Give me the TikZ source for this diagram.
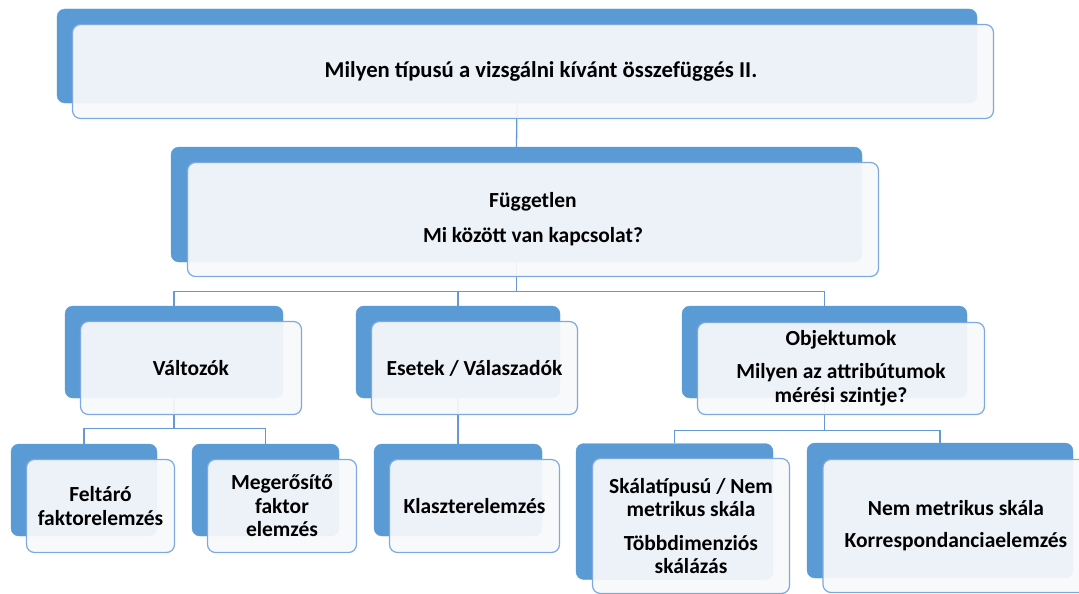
\documentclass[tikz,border=0pt]{standalone}
\usepackage{fontspec}
\setmainfont{Carlito}
\usepackage{tikz}

\definecolor{smBlue}{RGB}{91,155,213}
\definecolor{smEdge}{RGB}{125,170,222}
\definecolor{smFront}{RGB}{248,249,251}
\definecolor{smLine}{RGB}{104,152,210}
\newcommand{\boxfont}{\fontsize{21.5}{23.5}\selectfont\bfseries}

\begin{document}
\begin{tikzpicture}[x=1pt, y=-1pt]
          \tikzset{
            BackBox/.style = { rectangle, rounded corners=8pt,
              fill = smBlue, draw = smBlue, inner sep=0pt },
            FrontBox/.style = { rectangle, rounded corners=8pt, draw = smEdge,
              line width=1.2pt, fill = smFront, fill opacity=0.93,
              text opacity=1, text = black, align=center,
              font = \boxfont, inner sep=0pt },
            Link/.style = { draw = smLine, line width=1.3pt } }

          \useasboundingbox (0,0) rectangle (1079,594);
          \clip (0,0) rectangle (1079,594);

          % back boxes
          \node[BackBox, minimum width=920pt, minimum height=94pt] (b-top) at (517,56) {};
          \node[BackBox, minimum width=691pt, minimum height=115pt] (b-fuggetlen) at (516.5,204.5) {};
          \node[BackBox, minimum width=218pt, minimum height=92pt] (b-valtozok) at (174,352) {};
          \node[BackBox, minimum width=204pt, minimum height=92pt] (b-esetek) at (458,352) {};
          \node[BackBox, minimum width=285pt, minimum height=92pt] (b-objektumok) at (824.5,352) {};
          \node[BackBox, minimum width=146pt, minimum height=92pt] (b-feltaro) at (84,490) {};
          \node[BackBox, minimum width=147pt, minimum height=92pt] (b-megerosito) at (265.5,490) {};
          \node[BackBox, minimum width=168pt, minimum height=92pt] (b-klaszter) at (458,490) {};
          \node[BackBox, minimum width=197pt, minimum height=136pt] (b-skala) at (674.5,511.5) {};
          \node[BackBox, minimum width=266pt, minimum height=135pt] (b-nemmetrikus) at (940,510.5) {};

          % connectors
          \draw[Link] (b-top.south) -- (b-fuggetlen.north);
          \draw[Link] (b-fuggetlen.south) -- ++(0,29) -| (b-valtozok.north);
          \draw[Link] (b-fuggetlen.south) -- ++(0,29) -| (b-esetek.north);
          \draw[Link] (b-fuggetlen.south) -- ++(0,29) -| (b-objektumok.north);
          \draw[Link] (b-valtozok.south) -- ++(0,30) -| (b-feltaro.north);
          \draw[Link] (b-valtozok.south) -- ++(0,30) -| (b-megerosito.north);
          \draw[Link] (b-esetek.south) -- (b-klaszter.north);
          \draw[Link] (b-objektumok.south) -- ++(0,32) -| (b-skala.north);
          \draw[Link] (b-objektumok.south) -- ++(0,32) -| (b-nemmetrikus.north);

          % front boxes
          \node[FrontBox, minimum width=921pt, minimum height=94pt,
                font=\fontsize{22.7}{24}\selectfont\bfseries] (top) at (533,71.5)
            {\hspace*{16pt}Milyen típusú a vizsgálni kívánt összefüggés II.};
          \node[FrontBox, minimum width=691pt, minimum height=114pt] (fuggetlen) at (533,219.5)
            {Független\\[11.5pt] Mi között van kapcsolat?};
          \node[FrontBox, minimum width=221pt, minimum height=93pt] (valtozok) at (191,368)
            {Változók};
          \node[FrontBox, minimum width=206pt, minimum height=93pt] (esetek) at (474.5,368)
            {Esetek / Válaszadók};
          \node[FrontBox, minimum width=287pt, minimum height=92pt] (objektumok) at (841,368.5)
            {Objektumok\\[9.5pt] Milyen az attribútumok\\ mérési szintje?};
          \node[FrontBox, minimum width=148pt, minimum height=93pt] (feltaro) at (100.5,506)
            {Feltáró\\ faktorelemzés};
          \node[FrontBox, minimum width=149pt, minimum height=93pt] (megerosito) at (282,506)
            {Megerősítő\\ faktor\\ elemzés};
          \node[FrontBox, minimum width=170pt, minimum height=93pt] (klaszter) at (474.5,506)
            {Klaszterelemzés};
          \node[FrontBox, minimum width=197pt, minimum height=135pt] (skala) at (691,526)
            {Skálatípusú / Nem\\ metrikus skála\\[10pt] Többdimenziós\\ skálázás};
          \node[FrontBox, minimum width=266pt, minimum height=133pt] (nemmetrikus) at (956,526)
            {Nem metrikus skála\\[8.5pt] Korrespondanciaelemzés};
\end{tikzpicture}
\end{document}
